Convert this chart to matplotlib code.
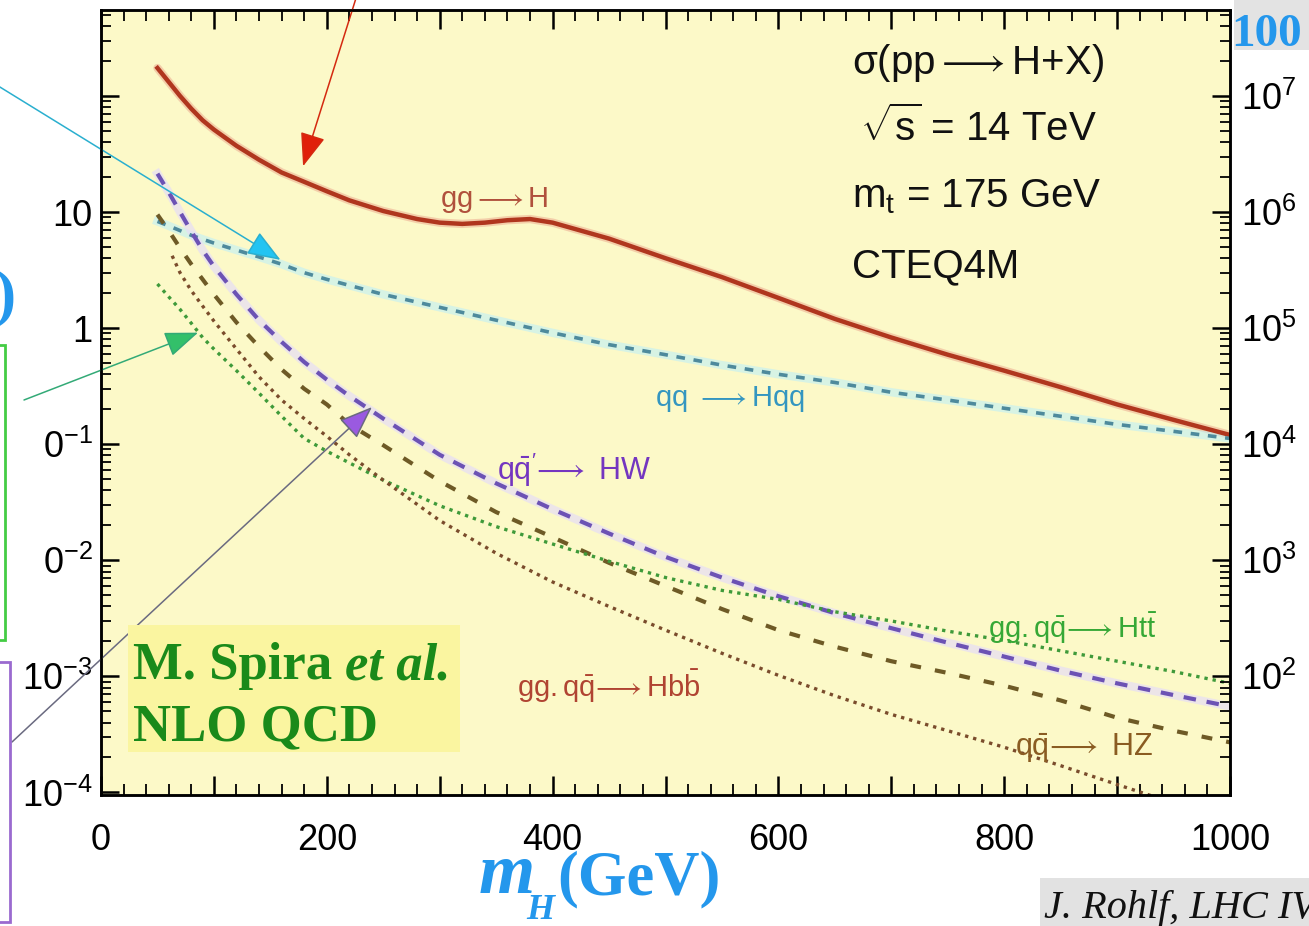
import numpy as np
import matplotlib
matplotlib.use('Agg')
import matplotlib.pyplot as plt
from matplotlib.patches import Rectangle
from matplotlib.ticker import (FixedLocator, FixedFormatter, LogLocator,
                               NullFormatter, MultipleLocator, FuncFormatter)

plt.rcParams['font.family'] = ['Liberation Sans', 'DejaVu Sans']
plt.rcParams['mathtext.fontset'] = 'custom'
plt.rcParams['mathtext.rm'] = 'Liberation Sans'
plt.rcParams['mathtext.it'] = 'Liberation Sans:italic'
plt.rcParams['mathtext.bf'] = 'Liberation Sans:bold'
plt.rcParams['mathtext.sf'] = 'Liberation Sans'

# ---------------- data (sigma in pb vs m_H in GeV) ----------------
mass = [50, 60, 70, 80, 90, 100, 120, 140, 160, 180, 200, 220, 250, 280, 300,
        320, 340, 360, 380, 400, 450, 500, 550, 600, 650, 700, 750, 800, 850,
        900, 950, 1000]
sigma_ggH = [174, 132, 100, 77.6, 61.7, 51.3, 37.2, 28.2, 21.9, 18.2, 15.1,
             12.6, 10.2, 8.7, 8.1, 7.9, 8.1, 8.5, 8.7, 8.1, 5.9, 4.0, 2.75,
             1.82, 1.20, 0.83, 0.59, 0.43, 0.31, 0.22, 0.162, 0.12]

mass_b = [50, 60, 80, 100, 120, 140, 160, 180, 200, 250, 300, 350, 400, 450,
          500, 550, 600, 650, 700, 750, 800, 850, 900, 950, 1000]
sigma_qqHqq = [8.3, 7.6, 6.3, 5.4, 4.7, 4.1, 3.55, 3.0, 2.63, 1.95, 1.51, 1.17,
               0.91, 0.72, 0.59, 0.48, 0.40, 0.34, 0.28, 0.24, 0.204, 0.174,
               0.148, 0.129, 0.112]

mass_c = [50, 60, 70, 80, 90, 100, 120, 140, 160, 180, 200, 220, 250, 300, 350,
          400, 450, 500, 550, 600, 650, 700, 750, 800, 850, 900, 950, 1000]
sigma_HW = [21.4, 14.8, 10.0, 6.8, 4.7, 3.4, 1.95, 1.17, 0.76, 0.51, 0.36,
            0.26, 0.166, 0.081, 0.046, 0.0275, 0.017, 0.0107, 0.0071, 0.0049,
            0.0035, 0.0026, 0.00195, 0.00148, 0.00112, 0.00087, 0.00069,
            0.00055]
sigma_HZ = [9.5, 6.9, 4.9, 3.55, 2.63, 1.95, 1.12, 0.69, 0.44, 0.30, 0.22,
            0.148, 0.098, 0.048, 0.026, 0.0158, 0.0095, 0.0060, 0.0038,
            0.0025, 0.0018, 0.00135, 0.00107, 0.00083, 0.00062, 0.00044,
            0.00034, 0.00027]
sigma_Htt = [2.4, 1.86, 1.45, 1.10, 0.83, 0.66, 0.43, 0.275, 0.174, 0.112,
             0.087, 0.069, 0.049, 0.0295, 0.0195, 0.0138, 0.0098, 0.0071,
             0.0055, 0.0046, 0.0036, 0.0030, 0.00245, 0.00204, 0.00166,
             0.00135, 0.0011, 0.00087]

mass_d = [63, 70, 80, 90, 100, 120, 140, 160, 180, 200, 220, 250, 300, 350,
          400, 450, 500, 550, 600, 650, 700, 750, 800, 850, 900, 950]
sigma_Hbb = [4.2, 3.0, 2.1, 1.55, 1.15, 0.66, 0.38, 0.24, 0.166, 0.117, 0.081,
             0.049, 0.022, 0.0115, 0.0065, 0.0040, 0.0025, 0.00158, 0.00102,
             0.00068, 0.00047, 0.00034, 0.000245, 0.00017, 0.000117, 0.000081]

x_ticklabels = ['0', '200', '400', '600', '800', '1000']
left_ticks = [1e-4, 1e-3, 1e-2, 1e-1, 1, 10, 100]
left_ticklabels = [r'$\mathdefault{10^{-4}}$', r'$\mathdefault{10^{-3}}$',
                   r'$\mathdefault{0^{-2}}$', r'$\mathdefault{0^{-1}}$',
                   '1', '10', '']
right_ticks = [1e2, 1e3, 1e4, 1e5, 1e6, 1e7]
lumi_factor = 1e5

# ---------------- figure ----------------
W, H = 1309, 926
fig = plt.figure(figsize=(W / 100, H / 100), dpi=100)
fig.patch.set_facecolor('white')


def fx(x):
    return x / W


def fy(y):
    return 1 - y / H


ax = fig.add_axes([fx(101), fy(795), 1129 / W, 785 / H])
ax.set_facecolor('#FCF9C8')
ax.set_yscale('log')
ax.set_xlim(0, 1000)
ax.set_ylim(0.95e-4, 550)

# halos
ax.plot(mass, sigma_ggH, color='#EBA58C', lw=6, alpha=0.5, solid_capstyle='round')
ax.plot(mass_b, sigma_qqHqq, color='#BFEFF7', lw=6, alpha=0.6)
ax.plot(mass_c, sigma_HW, color='#E6DDF7', lw=6, alpha=0.7)
# curves
ax.plot(mass, sigma_ggH, color='#B0361E', lw=3.2)
ax.plot(mass_b, sigma_qqHqq, color='#4E8A9C', lw=2.6, ls=(0, (2.4, 2.4)))
ax.plot(mass_c, sigma_HW, color='#6C52B4', lw=3.0, ls=(0, (3.0, 2.6)))
ax.plot(mass_c, sigma_HZ, color='#6E5A26', lw=3.0, ls=(0, (2.6, 3.4)))
ax.plot(mass_c, sigma_Htt, color='#3F9A3A', lw=2.4, ls=(0, (1.0, 1.5)))
ax.plot(mass_d, sigma_Hbb, color='#7A4C2C', lw=2.4, ls=(0, (1.0, 1.5)))

# x ticks
ax.xaxis.set_major_locator(MultipleLocator(100))
ax.xaxis.set_minor_locator(MultipleLocator(20))
ax.xaxis.set_major_formatter(FuncFormatter(
    lambda v, p: x_ticklabels[int(round(v)) // 200] if int(round(v)) % 200 == 0 else ''))
ax.tick_params(axis='x', which='both', direction='in', top=True, bottom=True,
               labelsize=26, pad=20)
ax.tick_params(axis='x', which='major', length=14, width=1.8)
ax.tick_params(axis='x', which='minor', length=8, width=1.3)

# left y ticks
ax.yaxis.set_major_locator(FixedLocator(left_ticks))
ax.yaxis.set_major_formatter(FixedFormatter(left_ticklabels))
ax.yaxis.set_minor_locator(LogLocator(base=10, subs=np.arange(2, 10), numticks=20))
ax.yaxis.set_minor_formatter(NullFormatter())
ax.tick_params(axis='y', which='both', direction='in', left=True, right=False,
               labelsize=26, pad=6)
ax.tick_params(axis='y', which='major', length=13, width=1.8)
ax.tick_params(axis='y', which='minor', length=7, width=1.3)

# right y axis (events)
ax2 = ax.twinx()
ax2.set_yscale('log')
ax2.set_ylim(0.95e-4 * lumi_factor, 550 * lumi_factor)
ax2.yaxis.set_major_locator(FixedLocator(right_ticks))
ax2.yaxis.set_minor_locator(LogLocator(base=10, subs=np.arange(2, 10), numticks=20))
ax2.yaxis.set_minor_formatter(NullFormatter())
ax2.tick_params(axis='y', which='both', direction='in', labelsize=26, pad=8)
ax2.tick_params(axis='y', which='major', length=13, width=1.8)
ax2.tick_params(axis='y', which='minor', length=7, width=1.3)

for a in (ax, ax2):
    for s in a.spines.values():
        s.set_linewidth(1.8)

# ---------------- annotations ----------------
info_kw = dict(fontsize=29, color='#111111', va='baseline', ha='left')
fig.text(fx(852), fy(74), r'$\mathrm{\sigma(pp\longrightarrow H{+}X)}$', **info_kw)
fig.text(fx(860), fy(141), r'$\sqrt{\mathrm{s}}$' + ' = 14 TeV', **info_kw)
fig.text(fx(852), fy(207), r'$\mathrm{m_t}$' + ' = 175 GeV', **info_kw)
fig.text(fx(852), fy(277), 'CTEQ4M', **info_kw)

lab_kw = dict(va='baseline', ha='left')
fig.text(fx(440), fy(207), r'$\mathrm{gg}\longrightarrow\mathrm{H}$', fontsize=21,
         color='#B0503C', **lab_kw)
fig.text(fx(655), fy(406), r'$\mathrm{qq\ }\longrightarrow\mathrm{Hqq}$', fontsize=21,
         color='#3496C0', **lab_kw)
fig.text(fx(497), fy(480), r"$\mathrm{q\bar{q}'}\!\longrightarrow\mathrm{\ HW}$",
         fontsize=22, color='#7436C0', **lab_kw)
fig.text(fx(988), fy(638), r'$\mathrm{gg.q\bar{q}}\!\longrightarrow\mathrm{Ht\bar{t}}$',
         fontsize=21, color='#36A836', **lab_kw)
fig.text(fx(517), fy(697), r'$\mathrm{gg.q\bar{q}}\!\longrightarrow\mathrm{Hb\bar{b}}$',
         fontsize=21, color='#B04432', **lab_kw)
fig.text(fx(1015), fy(756), r'$\mathrm{q\bar{q}}\!\longrightarrow\mathrm{\ HZ}$',
         fontsize=22, color='#8A5C22', **lab_kw)

# Spira box
fig.patches.append(Rectangle((fx(128), fy(752)), 332 / W, 127 / H,
                             transform=fig.transFigure, facecolor='#FAF5A0',
                             edgecolor='none', zorder=1))
serif_kw = dict(family='Liberation Serif', weight='bold', color='#1A8A1A',
                va='baseline', ha='left', fontsize=38, zorder=3)
fig.text(fx(133), fy(679), 'M. Spira', **serif_kw)
fig.text(fx(345), fy(679), 'et al.', style='italic', **serif_kw)
fig.text(fx(133), fy(740), 'NLO QCD', **serif_kw)

# x-axis label
blue = '#2497EC'
fig.text(fx(479), fy(893), 'm', family='Liberation Serif', style='italic',
         weight='bold', fontsize=52, color=blue, va='baseline')
fig.text(fx(526), fy(919), 'H', family='Liberation Serif', style='italic',
         weight='bold', fontsize=26, color=blue, va='baseline')
fig.text(fx(557), fy(894), '(GeV)', family='Liberation Serif', weight='bold',
         fontsize=45, color=blue, va='baseline')

# cropped slide decorations
fig.text(fx(16), fy(298), ')', family='Liberation Serif', weight='bold',
         fontsize=46, color=blue, ha='right', va='center')
fig.patches.append(Rectangle((fx(-20), fy(640)), 25 / W, 295 / H,
                             transform=fig.transFigure, facecolor='none',
                             edgecolor='#44CC44', lw=2, zorder=1))
fig.patches.append(Rectangle((fx(-20), fy(922)), 30 / W, 260 / H,
                             transform=fig.transFigure, facecolor='none',
                             edgecolor='#9A6ACF', lw=2, zorder=1))
fig.patches.append(Rectangle((fx(1234), fy(50)), 80 / W, 52 / H,
                             transform=fig.transFigure, facecolor='#E3E3E3',
                             edgecolor='none', zorder=1))
fig.text(fx(1231), fy(46), '100', family='Liberation Serif', weight='bold',
         fontsize=34, color=blue, va='baseline', ha='left', zorder=3)
fig.patches.append(Rectangle((fx(1040), fy(930)), 280 / W, 52 / H,
                             transform=fig.transFigure, facecolor='#E2E2E2',
                             edgecolor='none', zorder=1))
fig.text(fx(1044), fy(918), 'J. Rohlf, LHC IV', family='Liberation Serif',
         style='italic', fontsize=29, color='#111111', va='baseline',
         ha='left', zorder=3)


# arrows (tip in data coords, tail in figure pixels)
def arrow(tip, tail_px, line_c, head_c):
    ax.annotate('', xy=tip, xycoords='data',
                xytext=(tail_px[0], H - tail_px[1]), textcoords='figure pixels',
                arrowprops=dict(arrowstyle='-|>,head_length=0.95,head_width=0.36',
                                mutation_scale=22, fc=head_c, ec=line_c, lw=1.1,
                                shrinkA=0, shrinkB=0),
                annotation_clip=False, zorder=10)


arrow((179, 24.8), (357, -5), '#D42A10', '#E0200A')
arrow((159, 3.87), (-5, 84), '#2AAFCF', '#22C4F2')
arrow((86, 0.914), (24, 400), '#33AA77', '#33C06A')
arrow((240, 0.209), (12, 742), '#6A6A80', '#9A5AE0')

fig.savefig('out.png', dpi=100)
